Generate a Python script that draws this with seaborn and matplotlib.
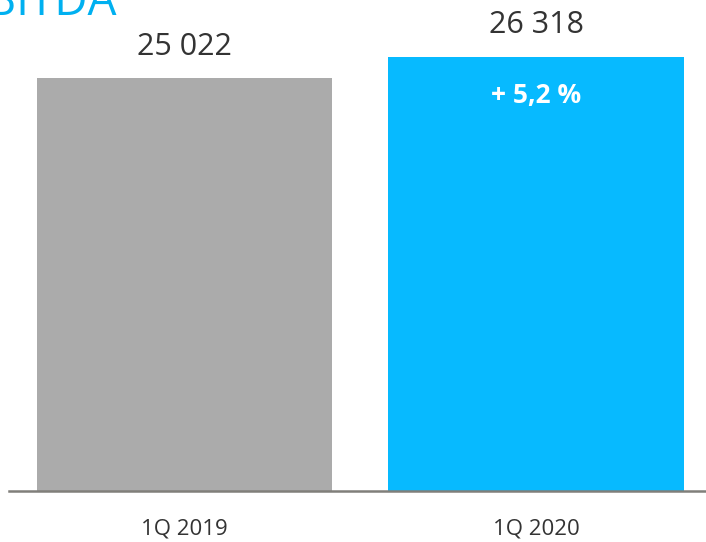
import seaborn as sns
import matplotlib.pyplot as plt
import pandas as pd

periods = ['1Q 2019', '1Q 2020']
ebitda = [25022, 26318]
value_labels = ['25 022', '26 318']
growth_label = '+ 5,2 %'
bar_colors = ['#ABABAB', '#07BAFF']

sns.set_style('white')
plt.rcParams['font.family'] = ['Open Sans', 'DejaVu Sans']

df = pd.DataFrame({'period': periods, 'ebitda': ebitda})

fig = plt.figure(figsize=(7.06, 5.42), dpi=100)
ax = fig.add_axes([9 / 706, 51 / 542, 697 / 706, 491 / 542])

sns.barplot(data=df, x='period', y='ebitda', hue='period', palette=bar_colors,
            saturation=1, width=0.84, linewidth=0, legend=False, ax=ax)

ax.set_xlim(-0.4993, 1.4836)
ax.set_ylim(0, 491 * 26318 / 434)

for s in ['top', 'right', 'left']:
    ax.spines[s].set_visible(False)
ax.spines['bottom'].set_color('#807F7A')
ax.spines['bottom'].set_linewidth(1.8)
ax.set_yticks([])
ax.set_xlabel('')
ax.set_ylabel('')
ax.tick_params(axis='x', length=0, pad=20, labelsize=16, labelcolor='#333333')

# value labels above bars
for i, v in enumerate(ebitda):
    ax.annotate(value_labels[i], (i, v), xytext=(0, 12), textcoords='offset points',
                ha='center', va='bottom', fontsize=22, color='#333333')

# growth inside the second bar
ax.annotate(growth_label, (1, ebitda[1]), xytext=(0, -28), textcoords='offset points',
            ha='center', va='center', fontsize=19, fontweight='bold', color='white')

# title, clipped at the top-left like the slide
fig.text(-0.055, 0.994, 'EBITDA', ha='left', va='center', fontsize=33, color='#00B0F0')

fig.savefig('out.png', dpi=100)
